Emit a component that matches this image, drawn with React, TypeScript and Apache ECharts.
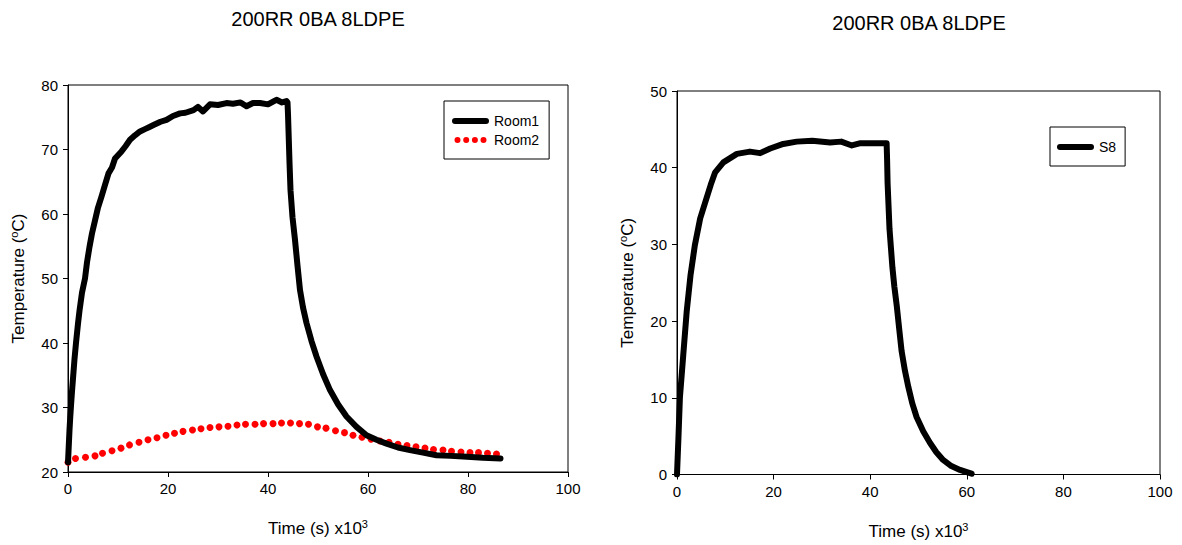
import React, { useEffect, useRef } from "react";
import * as echarts from "echarts";

const chartTitle = "200RR 0BA 8LDPE";

// Left chart: Room1 (black line)
const room1Time = [0, 0.15, 0.3, 0.45, 0.6, 0.8, 1.0, 1.3, 1.6, 2.0, 2.3, 2.8, 3.4, 3.8, 4.3, 4.8, 5.4, 6.0, 6.7, 7.4, 8.1, 8.8, 9.4, 10.7, 11.5, 12.4, 13.4, 14.4, 15.5, 16.3, 17.1, 18.5, 19.7, 21, 22.4, 23.5, 25.1, 26, 27, 28.4, 30, 31.7, 33, 34.5, 35.7, 37, 38.4, 40, 41.2, 41.7, 42.8, 43.7, 43.9, 44.0, 44.1, 44.3, 44.5, 44.9, 45.4, 45.9, 46.4, 47.0, 47.7, 48.7, 49.7, 51, 52.4, 54, 55.7, 57.7, 59.7, 61.7, 63.7, 66, 68.4, 71, 73.7, 76.5, 79, 83, 86.5];
const room1Temp = [21.5, 24, 26.5, 28.5, 30.3, 32.5, 34.5, 37.5, 40, 43, 45, 47.8, 50, 52.5, 54.9, 57, 59, 61, 62.7, 64.5, 66.3, 67.2, 68.6, 69.7, 70.5, 71.5, 72.2, 72.8, 73.2, 73.5, 73.8, 74.3, 74.6, 75.2, 75.6, 75.7, 76.1, 76.6, 75.9, 77.0, 76.9, 77.2, 77.1, 77.3, 76.7, 77.2, 77.2, 77.0, 77.5, 77.7, 77.3, 77.5, 77.3, 75.5, 73, 68, 63.7, 59.5, 56, 52, 48.2, 45.5, 43.1, 40.3, 37.9, 35.2, 32.7, 30.5, 28.6, 27, 25.7, 25, 24.4, 23.8, 23.4, 23.0, 22.6, 22.5, 22.4, 22.2, 22.1];

// Left chart: Room2 (red dots)
const room2Time = [0, 1.5, 3.5, 5.4, 6.9, 8.8, 10.6, 12.3, 14.2, 16, 17.8, 19.6, 21.3, 23, 24.9, 26.6, 28.4, 30.2, 32, 33.8, 35.5, 37.4, 39.1, 41, 42.7, 44.5, 46.3, 48.1, 49.9, 51.6, 53.5, 55.3, 57, 58.8, 60.6, 62.4, 64.2, 66, 67.8, 69.6, 71.4, 73.1, 75, 76.7, 78.6, 80.4, 82.1, 83.9, 85.7];
const room2Temp = [21.5, 22.1, 22.3, 22.5, 22.9, 23.3, 23.7, 24.2, 24.6, 25.0, 25.3, 25.7, 26.0, 26.3, 26.5, 26.7, 26.9, 27.0, 27.1, 27.3, 27.4, 27.4, 27.5, 27.5, 27.6, 27.6, 27.5, 27.4, 27.0, 26.8, 26.4, 26.1, 25.7, 25.4, 25.1, 24.8, 24.6, 24.3, 24.1, 23.9, 23.7, 23.5, 23.4, 23.2, 23.1, 23.0, 23.0, 22.9, 22.8];

// Right chart: S8
const s8Time = [0, 0.3, 0.6, 1.3, 2, 2.8, 3.7, 4.8, 6.1, 7.0, 7.9, 9.6, 12.4, 15.1, 17.2, 19.3, 22, 24.8, 28, 31.7, 34, 36.2, 38, 40, 43.4, 43.5, 43.6, 43.8, 44.0, 44.3, 44.6, 45.0, 45.5, 46.0, 46.5, 47.2, 47.9, 48.7, 49.6, 51, 52.4, 53.7, 55.1, 56.8, 58.6, 60, 61];
const s8Temp = [0, 4.8, 10, 15.6, 21.2, 26, 29.9, 33.4, 36, 37.8, 39.4, 40.7, 41.8, 42.1, 41.9, 42.5, 43.1, 43.4, 43.5, 43.3, 43.4, 42.9, 43.2, 43.2, 43.2, 41, 38, 35, 32, 29.5, 27, 24.5, 22, 19, 16.1, 13.5, 11.4, 9.3, 7.5, 5.6, 4.1, 2.9, 1.9, 1.1, 0.6, 0.3, 0.1];

const FONT = "'Liberation Sans', Arial, sans-serif";

const zip = (a: number[], b: number[]) => a.map((v, i) => [v, b[i]]);

const nameRich = {
  n: { fontSize: 17, lineHeight: 20, fontFamily: FONT, color: "#000" },
  sup: { fontSize: 11, lineHeight: 9, verticalAlign: "top", fontFamily: FONT, color: "#000" },
};

export default function App() {
  const ref = useRef<HTMLDivElement>(null);
  useEffect(() => {
    if (!ref.current) return;
    const chart = echarts.init(ref.current, undefined, { renderer: "svg" });
    const xAxisBase = (gridIndex: number, gap: number) => ({
      type: "value",
      gridIndex,
      min: 0,
      max: 100,
      interval: 20,
      name: "{n|Time (s) x10}{sup|3}",
      nameLocation: "middle",
      nameGap: gap,
      nameTextStyle: { fontFamily: FONT, fontSize: 17, color: "#000", rich: nameRich },
      axisLine: { show: true, lineStyle: { color: "#000", width: 1 } },
      axisTick: { show: true, inside: false, length: 5, lineStyle: { color: "#000" } },
      axisLabel: { color: "#000", fontSize: 15, fontFamily: FONT, margin: 9 },
      splitLine: { show: false },
    });
    const yAxisBase = (gridIndex: number, min: number, max: number) => ({
      type: "value",
      gridIndex,
      min,
      max,
      interval: 10,
      name: "{n|Temperature (}{sup|o}{n|C)}",
      nameLocation: "middle",
      nameGap: 40,
      nameTextStyle: { fontFamily: FONT, fontSize: 17, color: "#000", rich: nameRich },
      axisLine: { show: true, lineStyle: { color: "#000", width: 1 } },
      axisTick: { show: true, inside: false, length: 5, lineStyle: { color: "#000" } },
      axisLabel: { color: "#000", fontSize: 15, fontFamily: FONT, margin: 10 },
      splitLine: { show: false },
    });
    const capsule = "path://M3,0 L34,0 A3,3 0 0 1 34,6 L3,6 A3,3 0 0 1 3,0 Z";
    const dots =
      "path://M0,3a3,3 0 1,0 6,0a3,3 0 1,0 -6,0z M8.7,3a3,3 0 1,0 6,0a3,3 0 1,0 -6,0z M17.4,3a3,3 0 1,0 6,0a3,3 0 1,0 -6,0z M26,3a3,3 0 1,0 6,0a3,3 0 1,0 -6,0z";
    const legendBase = {
      orient: "vertical",
      borderColor: "#000",
      borderWidth: 1,
      backgroundColor: "#fff",
      borderRadius: 0,
      itemWidth: 37,
      itemHeight: 6,
      itemGap: 5,
      itemTextGap: 7,
      textStyle: { fontFamily: FONT, fontSize: 14, lineHeight: 14, color: "#000" },
    };
    chart.setOption({
      animation: false,
      backgroundColor: "#fff",
      graphic: [
        {
          type: "text",
          x: 318,
          y: 19,
          style: { text: chartTitle, fontFamily: FONT, fontSize: 20, fill: "#000", align: "center", verticalAlign: "middle" },
        },
        {
          type: "text",
          x: 919,
          y: 23,
          style: { text: chartTitle, fontFamily: FONT, fontSize: 20, fill: "#000", align: "center", verticalAlign: "middle" },
        },
      ],
      grid: [
        { left: 68, top: 85, width: 500, height: 387, show: true, borderColor: "#000", borderWidth: 1, containLabel: false },
        { left: 677, top: 91, width: 483, height: 387, show: true, borderColor: "#000", borderWidth: 1, containLabel: false },
      ],
      xAxis: [xAxisBase(0, 46), xAxisBase(1, 47)],
      yAxis: [yAxisBase(0, 20, 80), yAxisBase(1, 0, 50)],
      legend: [
        {
          ...legendBase,
          left: 444,
          top: 101,
          padding: [13, 10, 12, 8],
          data: [
            { name: "Room1", icon: capsule, itemStyle: { color: "#000" } },
            { name: "Room2", icon: dots, itemStyle: { color: "#ff0000", opacity: 1 } },
          ],
        },
        {
          ...legendBase,
          left: 1050,
          top: 127,
          padding: [13, 9, 12, 7],
          data: [{ name: "S8", icon: capsule, itemStyle: { color: "#000" } }],
        },
      ],
      series: [
        {
          name: "Room2",
          type: "scatter",
          xAxisIndex: 0,
          yAxisIndex: 0,
          symbol: "circle",
          symbolSize: 7,
          itemStyle: { color: "#ff0000", opacity: 1 },
          data: zip(room2Time, room2Temp),
          z: 2,
        },
        {
          name: "Room1",
          type: "line",
          xAxisIndex: 0,
          yAxisIndex: 0,
          showSymbol: false,
          symbol: "none",
          lineStyle: { color: "#000", width: 6, cap: "round", join: "round" },
          itemStyle: { color: "#000" },
          data: zip(room1Time, room1Temp),
          z: 3,
        },
        {
          name: "S8",
          type: "line",
          xAxisIndex: 1,
          yAxisIndex: 1,
          showSymbol: false,
          symbol: "none",
          lineStyle: { color: "#000", width: 6, cap: "round", join: "round" },
          itemStyle: { color: "#000" },
          data: zip(s8Time, s8Temp),
          z: 3,
        },
      ],
    });
    return () => chart.dispose();
  }, []);
  return <div ref={ref} style={{ position: "fixed", left: 0, top: 0, width: 1182, height: 545 }} />;
}
